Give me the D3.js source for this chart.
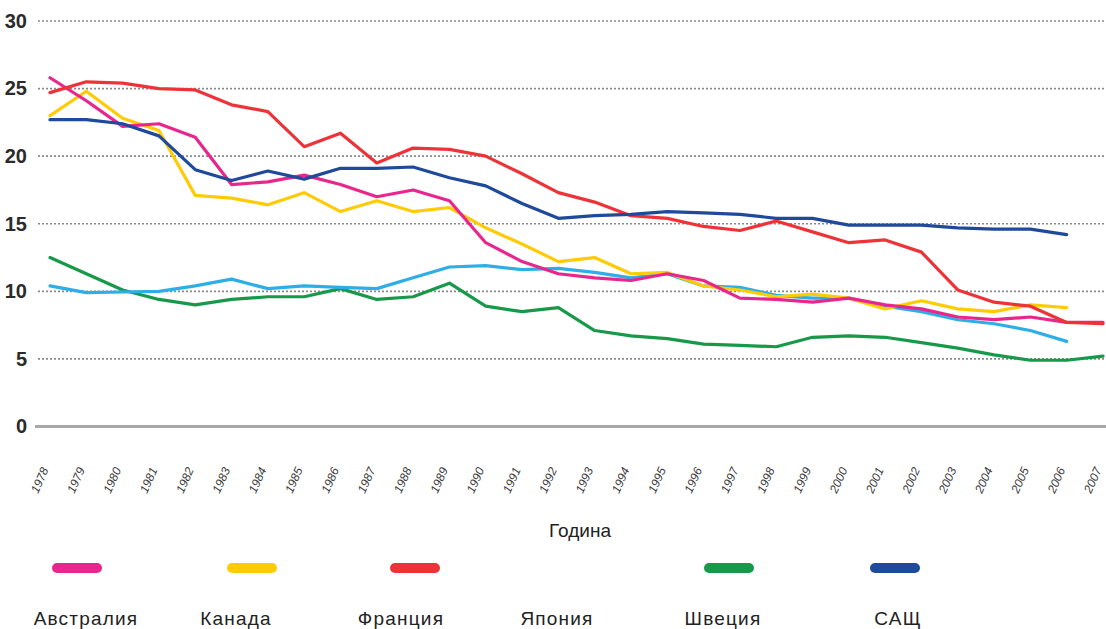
<!DOCTYPE html>
<html>
<head>
<meta charset="utf-8">
<script src="https://cdn.jsdelivr.net/npm/d3@7"></script>
<style>
  html, body { margin: 0; padding: 0; background: #fff; }
  svg { display: block; }
</style>
</head>
<body>
<svg id="chart" width="1106" height="629"></svg>
<script>
const years = d3.range(1978, 2008);
const yTicks = [0, 5, 10, 15, 20, 25, 30];

const australia = [25.8, 24.1, 22.2, 22.4, 21.4, 17.9, 18.1, 18.6, 17.9, 17.0, 17.5, 16.7, 13.6, 12.2, 11.3, 11.0, 10.8, 11.3, 10.8, 9.5, 9.4, 9.2, 9.5, 9.0, 8.7, 8.1, 7.9, 8.1, 7.7, 7.7];
const canada    = [23.0, 24.8, 22.8, 21.9, 17.1, 16.9, 16.4, 17.3, 15.9, 16.7, 15.9, 16.2, 14.7, 13.5, 12.2, 12.5, 11.3, 11.4, 10.4, 10.1, 9.6, 9.8, 9.5, 8.7, 9.3, 8.7, 8.5, 9.0, 8.8, null];
const france    = [24.7, 25.5, 25.4, 25.0, 24.9, 23.8, 23.3, 20.7, 21.7, 19.5, 20.6, 20.5, 20.0, 18.7, 17.3, 16.6, 15.6, 15.4, 14.8, 14.5, 15.2, 14.4, 13.6, 13.8, 12.9, 10.1, 9.2, 8.9, 7.7, 7.6];
const japan     = [10.4, 9.9, 9.95, 10.0, 10.4, 10.9, 10.2, 10.4, 10.3, 10.2, 11.0, 11.8, 11.9, 11.6, 11.7, 11.4, 11.0, 11.3, 10.4, 10.3, 9.7, 9.5, 9.5, 8.9, 8.5, 7.9, 7.6, 7.1, 6.3, null];
const sweden    = [12.5, 11.3, 10.1, 9.4, 9.0, 9.4, 9.6, 9.6, 10.2, 9.4, 9.6, 10.6, 8.9, 8.5, 8.8, 7.1, 6.7, 6.5, 6.1, 6.0, 5.9, 6.6, 6.7, 6.6, 6.2, 5.8, 5.3, 4.9, 4.9, 5.2];
const usa       = [22.7, 22.7, 22.4, 21.5, 19.0, 18.2, 18.9, 18.3, 19.1, 19.1, 19.2, 18.4, 17.8, 16.5, 15.4, 15.6, 15.7, 15.9, 15.8, 15.7, 15.4, 15.4, 14.9, 14.9, 14.9, 14.7, 14.6, 14.6, 14.2, null];

const seriesNames  = ["Австралия", "Канада", "Франция", "Япония", "Швеция", "САЩ"];
const seriesValues = [australia, canada, france, japan, sweden, usa];
const seriesColors = ["#e8268e", "#ffcb05", "#ee3338", "#2eaee6", "#17994a", "#1f4a9c"];
const legendSwatch = [true, true, true, false, true, true];
const drawOrder    = [4, 3, 1, 0, 2, 5];
const xTitle = "Година";

// layout
const legendSwatchX = [52, 227, 390, 0, 704, 870];
const legendLabelX  = [86, 236, 401, 557, 723, 898];

const svg = d3.select("#chart");
const x = d3.scalePoint().domain(years).range([50, 1103]);
const y = d3.scaleLinear().domain([0, 30]).range([426.5, 21]);

// gridlines
svg.append("g").selectAll("line")
  .data(yTicks.filter(d => d > 0))
  .join("line")
  .attr("x1", 38).attr("x2", 1106)
  .attr("y1", d => y(d)).attr("y2", d => y(d))
  .attr("stroke", "#8a8a8a")
  .attr("stroke-width", 1.6)
  .attr("stroke-dasharray", "2,2");

// zero baseline
svg.append("line")
  .attr("x1", 35).attr("x2", 1106)
  .attr("y1", y(0)).attr("y2", y(0))
  .attr("stroke", "#a8a8a8")
  .attr("stroke-width", 3);

// y axis labels
const yAxis = d3.axisLeft(y).tickValues(yTicks).tickSize(0).tickPadding(0);
const yg = svg.append("g").attr("transform", "translate(27,0)").call(yAxis);
yg.select(".domain").remove();
yg.selectAll("text")
  .attr("font-family", "'Liberation Sans Narrow', 'Arial Narrow', sans-serif")
  .attr("font-weight", "bold")
  .attr("font-size", 20)
  .attr("fill", "#2b2b2b")
  .attr("text-anchor", "end");

// x axis labels
const xAxis = d3.axisBottom(x).tickSize(0).tickPadding(0);
const xg = svg.append("g").call(xAxis);
xg.select(".domain").remove();
xg.selectAll(".tick").attr("transform", d => `translate(${x(d) - 5},468)`);
xg.selectAll("text")
  .attr("font-family", "'Liberation Sans Narrow', 'Arial Narrow', sans-serif")
  .attr("font-size", 12)
  .attr("font-style", "italic")
  .attr("fill", "#3a3a3a")
  .attr("text-anchor", "end")
  .attr("dy", "0.35em")
  .attr("y", 0)
  .attr("transform", "rotate(-66)");

// x title
svg.append("text")
  .attr("x", 580).attr("y", 537)
  .attr("text-anchor", "middle")
  .attr("font-family", "'Liberation Sans', Arial, sans-serif")
  .attr("font-size", 19)
  .attr("fill", "#222")
  .text(xTitle);

// lines
const line = d3.line()
  .defined(d => d.v != null)
  .x(d => x(d.year))
  .y(d => y(d.v));

svg.append("g").selectAll("path")
  .data(drawOrder)
  .join("path")
  .attr("d", i => line(years.map((yr, k) => ({year: yr, v: seriesValues[i][k]}))))
  .attr("fill", "none")
  .attr("stroke", i => seriesColors[i])
  .attr("stroke-width", 3.2)
  .attr("stroke-linejoin", "round")
  .attr("stroke-linecap", "round");

// legend
const lg = svg.append("g");
seriesNames.forEach((name, i) => {
  if (legendSwatch[i]) {
    lg.append("rect")
      .attr("x", legendSwatchX[i]).attr("y", 563)
      .attr("width", 50).attr("height", 10)
      .attr("rx", 5).attr("ry", 5)
      .attr("fill", seriesColors[i]);
  }
  lg.append("text")
    .attr("x", legendLabelX[i]).attr("y", 625)
    .attr("text-anchor", "middle")
    .attr("font-family", "'Liberation Sans', Arial, sans-serif")
    .attr("font-size", 19)
    .attr("letter-spacing", 1.2)
    .attr("fill", "#222")
    .text(name);
});
</script>
</body>
</html>
